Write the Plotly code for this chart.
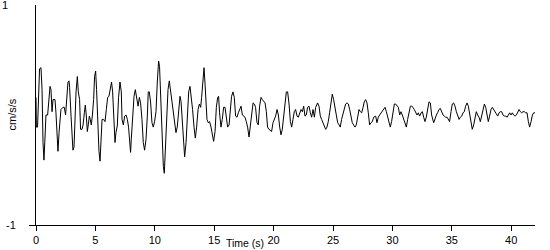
import plotly.graph_objects as go

# Time (s)
time_s = [0.00,0.03,0.13,0.22,0.30,0.42,0.51,0.59,0.67,0.76,0.84,0.98,1.09,1.18,1.26,1.35,1.43,1.60,1.68,1.77,
1.85,1.94,2.02,2.10,2.27,2.38,2.49,2.61,2.69,2.78,2.83,2.95,3.03,3.11,3.20,3.28,3.37,3.48,3.56,3.67,
3.75,3.87,3.96,4.07,4.15,4.23,4.32,4.40,4.49,4.57,4.65,4.74,4.85,4.93,5.02,5.10,5.19,5.30,5.39,5.47,
5.56,5.69,5.81,5.92,6.03,6.14,6.25,6.36,6.45,6.53,6.65,6.73,6.84,6.95,7.07,7.18,7.24,7.35,7.46,7.58,
7.69,7.79,7.91,7.96,8.02,8.13,8.25,8.36,8.47,8.59,8.70,8.80,8.92,9.03,9.14,9.26,9.37,9.45,9.54,9.65,
9.76,9.87,9.98,10.10,10.21,10.32,10.40,10.49,10.61,10.72,10.80,10.88,10.99,11.11,11.22,11.33,11.45,11.56,11.67,11.78,
11.89,12.00,12.12,12.21,12.29,12.40,12.51,12.63,12.74,12.85,12.96,13.07,13.18,13.30,13.41,13.52,13.64,13.75,13.86,13.94,
14.06,14.14,14.23,14.31,14.39,14.50,14.61,14.73,14.84,14.95,15.07,15.18,15.29,15.37,15.45,15.57,15.68,15.79,15.91,16.02,
16.13,16.25,16.36,16.46,16.58,16.69,16.80,16.92,17.03,17.14,17.26,17.37,17.47,17.59,17.70,17.81,17.93,18.04,18.15,18.27,
18.38,18.48,18.60,18.71,18.82,18.94,19.05,19.16,19.28,19.39,19.49,19.61,19.72,19.83,19.95,20.06,20.17,20.29,20.40,20.51,
20.62,20.73,20.84,20.96,21.07,21.18,21.30,21.41,21.52,21.63,21.74,21.85,21.97,22.08,22.19,22.31,22.42,22.53,22.64,22.75,
22.86,22.98,23.09,23.20,23.32,23.43,23.54,23.70,23.82,23.93,24.04,24.16,24.27,24.38,24.49,24.60,24.71,24.83,24.94,25.05,
25.17,25.28,25.39,25.51,25.61,25.72,25.84,25.95,26.06,26.18,26.29,26.40,26.52,26.62,26.73,26.85,26.96,27.07,27.19,27.30,
27.41,27.53,27.63,27.74,27.86,27.97,28.08,28.20,28.31,28.42,28.59,28.70,28.81,28.92,29.04,29.15,29.26,29.38,29.49,29.60,
29.71,29.82,29.93,30.05,30.16,30.27,30.39,30.50,30.61,30.72,30.83,30.94,31.06,31.17,31.28,31.40,31.51,31.62,31.73,31.84,
31.95,32.07,32.18,32.29,32.41,32.52,32.63,32.74,32.85,32.96,33.08,33.19,33.30,33.47,33.59,33.70,33.80,33.92,34.03,34.14,
34.26,34.37,34.48,34.60,34.71,34.81,34.93,35.04,35.15,35.27,35.38,35.49,35.61,35.72,35.83,35.94,36.05,36.16,36.28,36.39,
36.50,36.62,36.72,36.84,36.95,37.06,37.17,37.29,37.40,37.51,37.63,37.74,37.85,37.96,38.07,38.18,38.30,38.41,38.52,38.64,
38.75,38.86,38.97,39.08,39.19,39.31,39.42,39.53,39.65,39.76,39.87,39.98,40.09,40.20,40.32,40.43,40.54,40.66,40.77,40.88,
40.99,41.10,41.21,41.33,41.44,41.55,41.67,41.78,41.89,42.00]

# Acceleration (cm/s/s)
accel = [0.16,-0.11,-0.11,0.11,0.42,0.43,0.23,-0.25,-0.41,-0.20,0.00,0.00,0.14,0.26,0.23,0.03,0.14,0.14,0.02,-0.22,
-0.33,-0.16,-0.01,0.05,0.07,0.07,0.00,0.14,0.30,0.31,0.25,-0.01,-0.20,-0.32,-0.29,-0.04,0.21,0.35,0.21,0.14,
-0.13,-0.13,-0.09,0.02,0.09,0.00,-0.15,-0.09,-0.01,-0.04,-0.09,-0.01,0.14,0.35,0.40,0.23,-0.11,-0.33,-0.42,-0.22,
-0.04,-0.04,-0.06,0.05,0.16,0.17,0.26,0.30,0.21,-0.01,-0.25,-0.16,-0.10,0.16,0.30,0.21,-0.04,-0.09,-0.01,0.00,
-0.04,-0.11,-0.29,-0.34,-0.22,-0.01,0.17,0.23,0.14,0.08,0.16,0.11,-0.04,-0.25,-0.32,-0.22,-0.01,0.21,0.21,0.11,
-0.07,-0.11,-0.06,0.03,0.30,0.49,0.44,0.14,-0.22,-0.47,-0.53,-0.34,-0.11,0.23,0.31,0.21,0.14,0.03,-0.07,-0.16,
-0.11,0.07,0.17,0.12,-0.01,-0.22,-0.38,-0.25,-0.01,0.21,0.26,0.17,0.05,-0.11,-0.21,-0.11,0.05,0.10,0.07,0.16,
0.37,0.43,0.28,0.12,-0.04,-0.07,-0.06,-0.11,-0.20,-0.24,-0.15,0.07,0.16,0.17,0.02,-0.11,-0.04,0.07,0.07,-0.02,
-0.11,-0.09,0.02,0.17,0.21,0.16,-0.01,-0.02,0.02,0.05,0.08,0.00,-0.01,-0.02,-0.06,-0.11,-0.20,-0.11,0.03,0.11,
0.10,0.07,-0.07,-0.09,0.08,0.16,0.14,0.12,0.11,0.03,-0.11,-0.13,-0.14,-0.15,-0.07,-0.04,-0.01,0.05,0.00,-0.11,
-0.18,-0.13,-0.02,0.12,0.21,0.21,0.10,-0.06,-0.11,-0.04,0.03,0.05,-0.01,-0.02,0.02,0.05,0.03,0.08,-0.01,0.00,
0.07,0.08,0.02,-0.02,0.05,-0.02,0.07,0.11,0.08,-0.01,-0.04,-0.07,-0.11,-0.13,-0.11,-0.06,0.02,0.14,0.19,0.14,
0.05,-0.02,-0.07,-0.09,-0.11,-0.04,0.02,0.07,0.10,0.11,0.10,0.05,-0.01,-0.07,-0.09,-0.11,-0.09,-0.02,0.05,0.03,
0.02,0.07,0.12,0.14,0.11,0.02,-0.09,-0.07,-0.06,-0.02,-0.01,-0.07,-0.02,0.00,0.02,0.03,0.05,0.07,0.03,-0.01,
-0.07,-0.11,-0.06,0.03,0.10,0.10,0.08,0.07,0.00,0.03,0.00,-0.04,-0.09,-0.11,-0.04,0.02,0.08,0.08,0.07,0.05,
0.03,0.00,0.02,-0.01,0.02,0.03,-0.02,-0.06,-0.02,0.05,0.12,0.11,0.00,-0.07,-0.02,0.00,0.02,0.05,0.06,0.03,
0.00,-0.01,-0.02,-0.02,-0.04,-0.06,0.03,0.10,0.11,0.08,0.03,-0.01,-0.04,-0.02,-0.01,0.02,0.03,0.08,0.11,0.08,
0.02,-0.07,-0.13,-0.09,-0.01,0.03,0.00,-0.02,-0.06,-0.01,0.07,0.10,0.07,-0.02,-0.06,-0.01,0.05,0.07,0.05,0.02,
0.00,-0.01,0.02,0.03,0.03,0.00,-0.01,-0.01,-0.02,0.00,0.02,0.00,0.02,0.00,-0.01,0.00,0.03,0.05,0.03,0.02,
0.03,0.03,0.02,0.02,-0.06,-0.11,-0.06,0.00,0.02,0.02]

x_ticks = [0, 5, 10, 15, 20, 25, 30, 35, 40]
x_range = [0, 42]
y_range = [-1, 1]

FONT = "Liberation Sans"

fig = go.Figure()
fig.add_trace(go.Scatter(x=time_s, y=accel, mode="lines",
                         line=dict(color="black", width=1),
                         hoverinfo="skip", showlegend=False))

fig.update_layout(
    width=550, height=250,
    margin=dict(l=36, r=15, t=5, b=25),
    paper_bgcolor="white", plot_bgcolor="white",
    font=dict(family=FONT, size=11, color="black"),
    xaxis=dict(range=x_range, showgrid=False, zeroline=False,
               showline=True, linecolor="black", linewidth=1,
               ticks="outside", ticklen=5, tickcolor="black", tickwidth=1,
               tickvals=x_ticks, tickfont=dict(family=FONT, size=11)),
    yaxis=dict(range=y_range, showgrid=False, zeroline=False,
               showline=True, linecolor="black", linewidth=1,
               ticks="outside", ticklen=6, tickcolor="black", tickwidth=1,
               tickvals=[-1], showticklabels=False),
    annotations=[
        dict(text="1", xref="paper", yref="y", x=0, y=1, xanchor="right",
             yanchor="middle", xshift=-26, showarrow=False,
             font=dict(family=FONT, size=11)),
        dict(text="-1", xref="paper", yref="y", x=0, y=-1, xanchor="right",
             yanchor="middle", xshift=-18, showarrow=False,
             font=dict(family=FONT, size=11)),
        dict(text="Time (s)", xref="x", yref="paper", x=17.6, y=-25 / 220,
             xanchor="center", yanchor="bottom", borderpad=0, showarrow=False,
             font=dict(family=FONT, size=10.5)),
        dict(text="cm/s/s", xref="paper", yref="y", x=0, y=0,
             xanchor="center", yanchor="middle", xshift=-24.5, textangle=-90,
             showarrow=False, font=dict(family=FONT, size=11)),
    ],
)

fig.write_html("out.html")
